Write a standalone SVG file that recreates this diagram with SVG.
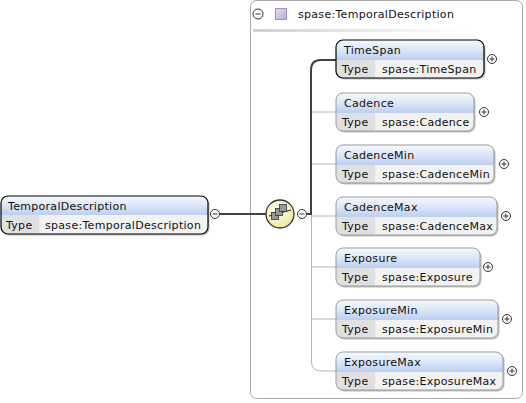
<svg xmlns="http://www.w3.org/2000/svg" width="526" height="403" viewBox="0 0 526 403">
<style>
text{font-family:"DejaVu Sans","Verdana",sans-serif;font-size:11px;fill:#111;letter-spacing:0.3px}
.hdr{fill:url(#hg)}
.row{fill:#f2f2f2}
.tc{fill:#e0e0e0}
.ol{fill:none;stroke:#9a9a9a;stroke-width:1}
.olm{fill:none;stroke:#000;stroke-width:1.2}
.sh{fill:#c0c0c0}
.btn{fill:#fff;stroke:#333;stroke-width:1}
.bl{stroke:#333;stroke-width:1}
.cn{stroke:#b4b4b4;stroke-width:1;fill:none}
.cd{stroke:#404040;stroke-width:2;fill:none}
</style>
<defs>
<linearGradient id="hg" x1="0" y1="0" x2="0" y2="1">
<stop offset="0" stop-color="#f6f9ff"/>
<stop offset="0.45" stop-color="#dfe8f8"/>
<stop offset="1" stop-color="#bccff0"/>
</linearGradient>
<linearGradient id="hl" x1="0" y1="0" x2="1" y2="0">
<stop offset="0" stop-color="#d0d0d0"/>
<stop offset="1" stop-color="#ffffff"/>
</linearGradient>
<linearGradient id="pg" x1="0" y1="0" x2="1" y2="1">
<stop offset="0" stop-color="#e6e0f4"/>
<stop offset="1" stop-color="#b8a8d8"/>
</linearGradient>
<radialGradient id="sg" cx="0.4" cy="0.35" r="0.7">
<stop offset="0" stop-color="#fffff0"/>
<stop offset="1" stop-color="#eee6a0"/>
</radialGradient>
</defs>

<g id="container">
<rect x="250.5" y="0.5" width="272" height="398" rx="6" fill="#fff" stroke="#a8a8a8"/>
<rect x="253" y="29" width="215" height="3" fill="url(#hl)"/>
<circle class="btn" cx="258" cy="14" r="5"/>
<line class="bl" x1="255.5" y1="14" x2="260.5" y2="14"/>
<rect x="275.5" y="8.5" width="11" height="11" fill="url(#pg)" stroke="#a090c0"/>
<text x="298" y="18">spase:TemporalDescription</text>
</g>

<g id="connectors">
<line class="cd" x1="220" y1="214" x2="266" y2="214"/>
<line class="cn" x1="311.5" y1="214" x2="311.5" y2="362"/>
<path class="cn" d="M311.5,362 Q311.5,371 321,371 H336"/>
<line class="cn" x1="311.5" y1="112" x2="336" y2="112"/>
<line class="cn" x1="311.5" y1="164" x2="336" y2="164"/>
<line class="cn" x1="311.5" y1="216" x2="336" y2="216"/>
<line class="cn" x1="311.5" y1="267" x2="336" y2="267"/>
<line class="cn" x1="311.5" y1="319" x2="336" y2="319"/>
<path class="cd" d="M307,214 H311 V70 Q311,60 321,60 H336"/>
</g>

<g id="TemporalDescription">
<rect class="sh" x="2.5" y="197.5" width="207" height="38" rx="7"/>
<path class="hdr" d="M1,215 V203 Q1,196 8,196 H201 Q208,196 208,203 V215 Z"/>
<path class="row" d="M1,215 H208 V227 Q208,234 201,234 H8 Q1,234 1,227 Z"/>
<path class="tc" d="M1,215 H39 V234 H8 Q1,234 1,227 Z"/>
<rect class="olm" x="1" y="196" width="207" height="38" rx="7"/>
<text x="8" y="210">TemporalDescription</text>
<text x="6" y="229">Type</text>
<text x="45" y="229">spase:TemporalDescription</text>
<circle class="btn" cx="215" cy="214" r="4.5"/>
<line class="bl" x1="212.5" y1="214" x2="217.5" y2="214"/>
</g>

<g id="sequence">
<circle cx="280" cy="214" r="14" fill="url(#sg)" stroke="#333" stroke-width="1.3"/>
<line x1="269" y1="216" x2="291" y2="210" stroke="#222" stroke-width="1"/>
<rect x="271.5" y="212.5" width="7" height="7" fill="#999" stroke="#333" stroke-width="0.8"/>
<rect x="275.5" y="208.5" width="7" height="7" fill="#999" stroke="#333" stroke-width="0.8"/>
<rect x="279.5" y="204.5" width="7" height="7" fill="#999" stroke="#333" stroke-width="0.8"/>
<circle class="btn" cx="302" cy="214" r="4.5"/>
<line class="bl" x1="299.5" y1="214" x2="304.5" y2="214"/>
</g>

<g id="TimeSpan">
<rect class="sh" x="337.5" y="41.5" width="148" height="38" rx="7"/>
<path class="hdr" d="M336,60 V47 Q336,40 343,40 H477 Q484,40 484,47 V60 Z"/>
<path class="row" d="M336,60 H484 V71 Q484,78 477,78 H343 Q336,78 336,71 Z"/>
<path class="tc" d="M336,60 H375 V78 H343 Q336,78 336,71 Z"/>
<rect class="olm" x="336" y="40" width="148" height="38" rx="7"/>
<text x="344" y="54">TimeSpan</text>
<text x="342" y="73">Type</text>
<text x="382" y="73">spase:TimeSpan</text>
<circle class="btn" cx="492" cy="59" r="4.5"/>
<line class="bl" x1="489.5" y1="59" x2="494.5" y2="59"/><line class="bl" x1="492" y1="56.5" x2="492" y2="61.5"/>
</g>

<g id="Cadence">
<rect class="sh" x="337.5" y="94.5" width="138" height="38" rx="7"/>
<path class="hdr" d="M336,113 V100 Q336,93 343,93 H467 Q474,93 474,100 V113 Z"/>
<path class="row" d="M336,113 H474 V124 Q474,131 467,131 H343 Q336,131 336,124 Z"/>
<path class="tc" d="M336,113 H375 V131 H343 Q336,131 336,124 Z"/>
<rect class="ol" x="336" y="93" width="138" height="38" rx="7"/>
<text x="344" y="107">Cadence</text>
<text x="342" y="126">Type</text>
<text x="382" y="126">spase:Cadence</text>
<circle class="btn" cx="484" cy="112" r="4.5"/>
<line class="bl" x1="481.5" y1="112" x2="486.5" y2="112"/><line class="bl" x1="484" y1="109.5" x2="484" y2="114.5"/>
</g>

<g id="CadenceMin">
<rect class="sh" x="337.5" y="146.5" width="158" height="38" rx="7"/>
<path class="hdr" d="M336,165 V152 Q336,145 343,145 H487 Q494,145 494,152 V165 Z"/>
<path class="row" d="M336,165 H494 V176 Q494,183 487,183 H343 Q336,183 336,176 Z"/>
<path class="tc" d="M336,165 H375 V183 H343 Q336,183 336,176 Z"/>
<rect class="ol" x="336" y="145" width="158" height="38" rx="7"/>
<text x="344" y="159">CadenceMin</text>
<text x="342" y="178">Type</text>
<text x="382" y="178">spase:CadenceMin</text>
<circle class="btn" cx="504" cy="164" r="4.5"/>
<line class="bl" x1="501.5" y1="164" x2="506.5" y2="164"/><line class="bl" x1="504" y1="161.5" x2="504" y2="166.5"/>
</g>

<g id="CadenceMax">
<rect class="sh" x="337.5" y="198.5" width="161" height="38" rx="7"/>
<path class="hdr" d="M336,217 V204 Q336,197 343,197 H490 Q497,197 497,204 V217 Z"/>
<path class="row" d="M336,217 H497 V228 Q497,235 490,235 H343 Q336,235 336,228 Z"/>
<path class="tc" d="M336,217 H375 V235 H343 Q336,235 336,228 Z"/>
<rect class="ol" x="336" y="197" width="161" height="38" rx="7"/>
<text x="344" y="211">CadenceMax</text>
<text x="342" y="230">Type</text>
<text x="382" y="230">spase:CadenceMax</text>
<circle class="btn" cx="506" cy="216" r="4.5"/>
<line class="bl" x1="503.5" y1="216" x2="508.5" y2="216"/><line class="bl" x1="506" y1="213.5" x2="506" y2="218.5"/>
</g>

<g id="Exposure">
<rect class="sh" x="337.5" y="249.5" width="144" height="38" rx="7"/>
<path class="hdr" d="M336,268 V255 Q336,248 343,248 H473 Q480,248 480,255 V268 Z"/>
<path class="row" d="M336,268 H480 V279 Q480,286 473,286 H343 Q336,286 336,279 Z"/>
<path class="tc" d="M336,268 H375 V286 H343 Q336,286 336,279 Z"/>
<rect class="ol" x="336" y="248" width="144" height="38" rx="7"/>
<text x="344" y="262">Exposure</text>
<text x="342" y="281">Type</text>
<text x="382" y="281">spase:Exposure</text>
<circle class="btn" cx="488" cy="267" r="4.5"/>
<line class="bl" x1="485.5" y1="267" x2="490.5" y2="267"/><line class="bl" x1="488" y1="264.5" x2="488" y2="269.5"/>
</g>

<g id="ExposureMin">
<rect class="sh" x="337.5" y="301.5" width="162" height="38" rx="7"/>
<path class="hdr" d="M336,320 V307 Q336,300 343,300 H491 Q498,300 498,307 V320 Z"/>
<path class="row" d="M336,320 H498 V331 Q498,338 491,338 H343 Q336,338 336,331 Z"/>
<path class="tc" d="M336,320 H375 V338 H343 Q336,338 336,331 Z"/>
<rect class="ol" x="336" y="300" width="162" height="38" rx="7"/>
<text x="344" y="314">ExposureMin</text>
<text x="342" y="333">Type</text>
<text x="382" y="333">spase:ExposureMin</text>
<circle class="btn" cx="507" cy="319" r="4.5"/>
<line class="bl" x1="504.5" y1="319" x2="509.5" y2="319"/><line class="bl" x1="507" y1="316.5" x2="507" y2="321.5"/>
</g>

<g id="ExposureMax">
<rect class="sh" x="337.5" y="353.5" width="167" height="38" rx="7"/>
<path class="hdr" d="M336,372 V359 Q336,352 343,352 H496 Q503,352 503,359 V372 Z"/>
<path class="row" d="M336,372 H503 V383 Q503,390 496,390 H343 Q336,390 336,383 Z"/>
<path class="tc" d="M336,372 H375 V390 H343 Q336,390 336,383 Z"/>
<rect class="ol" x="336" y="352" width="167" height="38" rx="7"/>
<text x="344" y="366">ExposureMax</text>
<text x="342" y="385">Type</text>
<text x="382" y="385">spase:ExposureMax</text>
<circle class="btn" cx="512" cy="371" r="4.5"/>
<line class="bl" x1="509.5" y1="371" x2="514.5" y2="371"/><line class="bl" x1="512" y1="368.5" x2="512" y2="373.5"/>
</g>
</svg>
